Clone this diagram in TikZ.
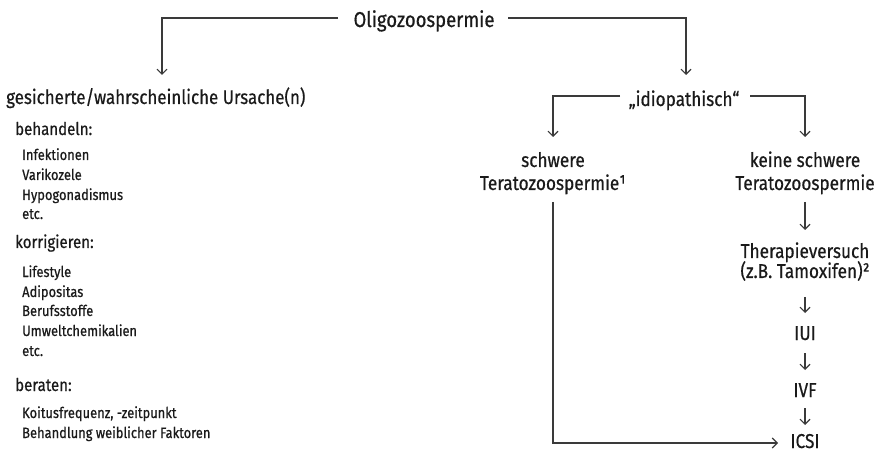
\documentclass[tikz,border=0pt]{standalone}
\usepackage{fontspec}
\setmainfont[FakeStretch=0.86,FakeBold=0.6]{Fira Sans}
\usetikzlibrary{arrows.meta}
\definecolor{ink}{HTML}{1A1A1A}
\definecolor{wire}{HTML}{3A3A3A}
\begin{document}
\begin{tikzpicture}[x=1pt,y=-1pt,
  main/.style={inner sep=0pt,anchor=base,text=ink,font=\fontsize{20}{22}\selectfont},
  big/.style={main,font=\fontsize{21.5}{24}\selectfont},
  head/.style={inner sep=0pt,anchor=base west,text=ink,font=\fontsize{17.5}{20}\selectfont},
  item/.style={inner sep=0pt,anchor=base west,text=ink,font=\fontsize{15}{17}\selectfont},
  arr/.style={draw=wire,line width=1.1pt,-{Straight Barb[length=5pt,width=10pt,line width=1.1pt]}}]
\useasboundingbox (0,0) rectangle (876,457);
% top
\node[big] (olig) at (424,27) {Oligozoospermie};
\node[main,anchor=base west,font=\fontsize{19.7}{23}\selectfont] (urs) at (6,104) {gesicherte/wahrscheinliche Ursache(n)};
\node[main] (idio) at (684,106) {„idiopathisch“};
% left list
\node[head] (beh) at (15,135) {behandeln:};
\node[item] (i1) at (22,160) {Infektionen};
\node[item] (i2) at (22,180) {Varikozele};
\node[item] (i3) at (22,200) {Hypogonadismus};
\node[item] (i4) at (22,219) {etc.};
\node[head] (kor) at (15,248) {korrigieren:};
\node[item] (k1) at (22,277) {Lifestyle};
\node[item] (k2) at (22,297) {Adipositas};
\node[item] (k3) at (22,316) {Berufsstoffe};
\node[item] (k4) at (22,336) {Umweltchemikalien};
\node[item] (k5) at (22,356) {etc.};
\node[head] (ber) at (15,391) {beraten:};
\node[item] (b1) at (22,418) {Koitusfrequenz, -zeitpunkt};
\node[item] (b2) at (22,438) {Behandlung weiblicher Faktoren};
% right branch
\node[main] (sw1) at (553,167) {schwere};
\node[main] (sw2) at (553,190) {Teratozoospermie¹};
\node[main] (ks1) at (805,167) {keine schwere};
\node[main] (ks2) at (805,190) {Teratozoospermie};
\node[main] (th1) at (805,258) {Therapieversuch};
\node[main] (th2) at (805,278) {(z.B. Tamoxifen)²};
\node[main] (iui) at (805,340) {IUI};
\node[main] (ivf) at (805,397) {IVF};
\node[main] (icsi) at (805,448) {ICSI};
% connectors
\coordinate (oL) at (338,18);
\coordinate (oR) at (508,18);
\coordinate (uT) at (162,75);
\coordinate (iT) at (686,75);
\draw[arr] (oL) -| (uT);
\draw[arr] (oR) -| (iT);
\coordinate (dL) at (620,96);
\coordinate (dR) at (750,96);
\coordinate (sT) at (553,137);
\coordinate (kT) at (805,137);
\draw[arr] (dL) -| (sT);
\draw[arr] (dR) -| (kT);
\coordinate (sB) at (553,202);
\coordinate (cL) at (778,443);
\draw[arr] (sB) |- (cL);
\draw[arr] (ks2.south |- 0,202) -- (ks2.south |- 0,230);
\draw[arr] (th2.south |- 0,297) -- (th2.south |- 0,313);
\draw[arr] (iui.south |- 0,353) -- (iui.south |- 0,370);
\draw[arr] (ivf.south |- 0,408) -- (ivf.south |- 0,425);
\end{tikzpicture}
\end{document}
